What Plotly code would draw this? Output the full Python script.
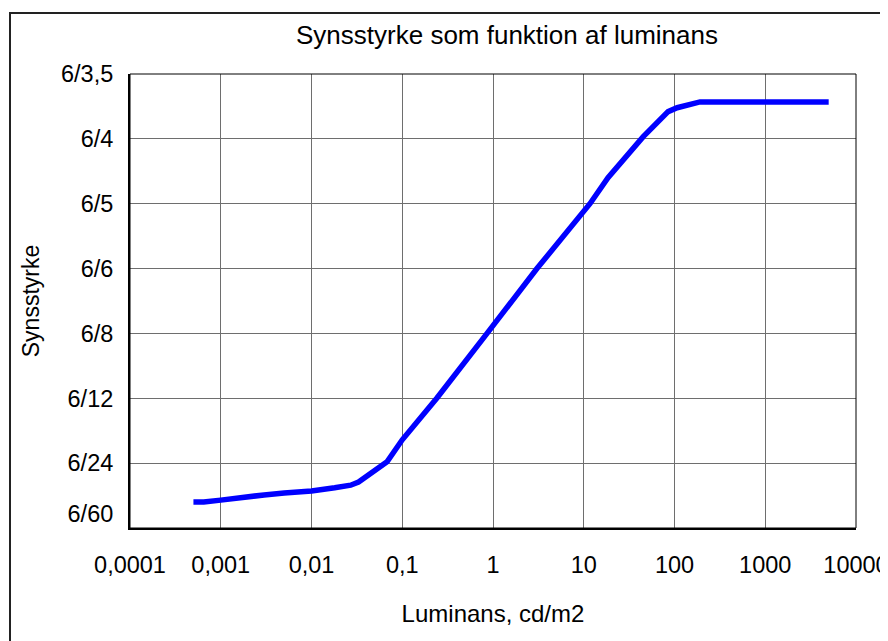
import plotly.graph_objects as go

# Luminance (cd/m2) and position on the visual-acuity scale (index of tick labels)
luminance = [0.0005, 0.00065, 0.001, 0.0016, 0.003, 0.005, 0.01, 0.018, 0.027,
             0.033, 0.04, 0.053, 0.068, 0.1, 0.24, 0.86, 3.05, 11.7, 18.5, 45,
             70, 85, 107, 140, 191, 5000]
acuity = [0.40, 0.40, 0.43, 0.47, 0.51, 0.54, 0.57, 0.62, 0.66,
          0.71, 0.79, 0.92, 1.02, 1.36, 2.0, 3.0, 4.0, 5.0, 5.40, 6.03,
          6.30, 6.42, 6.48, 6.53, 6.57, 6.57]

x_tickvals = [0.0001, 0.001, 0.01, 0.1, 1, 10, 100, 1000, 10000]
x_ticktext = ["0,0001", "0,001", "0,01", "0,1", "1", "10", "100", "1000", "10000"]
y_tickvals = [0.22, 1, 2, 3, 4, 5, 6, 7]
y_ticktext = ["6/60", "6/24", "6/12", "6/8", "6/6", "6/5", "6/4", "6/3,5"]
y_gridvals = [1, 2, 3, 4, 5, 6, 7]

FONT = "Liberation Sans, Arial, sans-serif"

fig = go.Figure()
fig.add_trace(go.Scatter(x=luminance, y=acuity, mode="lines",
                         line=dict(color="#0000FF", width=5.5),
                         showlegend=False, hoverinfo="x+y"))

# page has an 8px body margin; figure placed at (8, 8) on the page
W, H = 880, 633
L, R, T, B = 122, 32, 66, 113
pw, ph = W - L - R, H - T - B

fig.update_layout(
    width=W, height=H,
    margin=dict(l=L, r=R, t=T, b=B, autoexpand=False),
    paper_bgcolor="white", plot_bgcolor="white",
    font=dict(family=FONT, size=23.5, color="black"),
    title=dict(text="Synsstyrke som funktion af luminans",
               font=dict(family=FONT, size=26, color="black"),
               x=(499 - L) / pw, xref="paper", xanchor="center",
               y=1 - 27 / H, yref="container", yanchor="middle"),
    xaxis=dict(type="log", range=[-4, 4],
               tickvals=x_tickvals, ticktext=x_ticktext,
               ticklabeloverflow="allow",
               ticks="outside", ticklen=15, tickcolor="rgba(0,0,0,0)",
               showgrid=True, gridcolor="#6e6e6e", gridwidth=1,
               showline=True, linecolor="black", linewidth=2,
               zeroline=False,
               title=dict(text="Luminans, cd/m2", standoff=28,
                          font=dict(family=FONT, size=24))),
    yaxis=dict(range=[0, 7],
               tickvals=y_tickvals, ticktext=y_ticktext,
               ticks="outside", ticklen=10, tickcolor="rgba(0,0,0,0)",
               showgrid=False,
               minor=dict(tickvals=y_gridvals, showgrid=True,
                          gridcolor="#6e6e6e", gridwidth=1, ticks=""),
               showline=True, linecolor="black", linewidth=2,
               zeroline=False,
               title=dict(text="Synsstyrke", standoff=15,
                          font=dict(family=FONT, size=23))),
)

# thin border on top/right of plot area
fig.add_shape(type="rect", xref="paper", yref="paper", x0=0, x1=1, y0=0, y1=1,
              line=dict(color="black", width=1), layer="above")
# outer chart frame (extends past the right and bottom edges)
fig.add_shape(type="rect", xref="paper", yref="paper",
              x0=(2 - L) / pw, x1=(900 - L) / pw,
              y0=(H - B - 660) / ph, y1=(H - B - 5) / ph,
              line=dict(color="#222222", width=2), layer="above")

fig.write_html("out.html")
